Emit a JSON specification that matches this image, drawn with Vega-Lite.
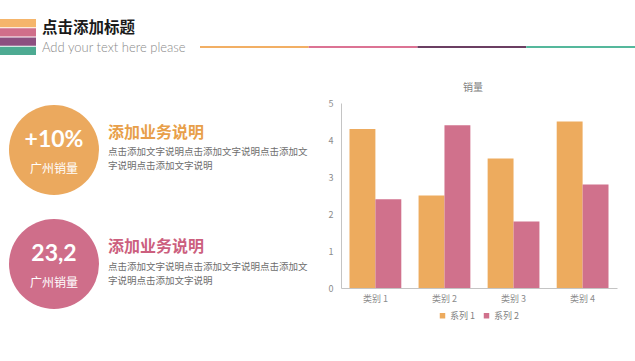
{
  "$schema": "https://vega.github.io/schema/vega-lite/v6.json",
  "background": "white",
  "padding": {"left": 0, "top": 19, "right": 0, "bottom": 0},
  "config": {
    "view": {"stroke": null},
    "font": "Noto Sans CJK SC",
    "title": {"font": "Noto Sans CJK SC"},
    "legend": {"layout": {"bottom": {"anchor": "middle"}}}
  },
  "datasets": {
    "sales": [
      {"category": "类别 1", "series": "系列 1", "value": 4.3},
      {"category": "类别 1", "series": "系列 2", "value": 2.4},
      {"category": "类别 2", "series": "系列 1", "value": 2.5},
      {"category": "类别 2", "series": "系列 2", "value": 4.4},
      {"category": "类别 3", "series": "系列 1", "value": 3.5},
      {"category": "类别 3", "series": "系列 2", "value": 1.8},
      {"category": "类别 4", "series": "系列 1", "value": 4.5},
      {"category": "类别 4", "series": "系列 2", "value": 2.8}
    ],
    "items": [
      {"id": "1", "metric": "+10%", "label": "广州销量", "heading": "添加业务说明", "line1": "点击添加文字说明点击添加文字说明点击添加文", "line2": "字说明点击添加文字说明"},
      {"id": "2", "metric": "23,2", "label": "广州销量", "heading": "添加业务说明", "line1": "点击添加文字说明点击添加文字说明点击添加文", "line2": "字说明点击添加文字说明"}
    ],
    "header": [
      {"part": "title", "k": "h", "text": "点击添加标题"},
      {"part": "sub", "k": "h", "text": "Add your text here please"}
    ],
    "stripes": [{"stripe": "1"}, {"stripe": "2"}, {"stripe": "3"}, {"stripe": "4"}],
    "segments": [{"seg": "1"}, {"seg": "2"}, {"seg": "3"}, {"seg": "4"}]
  },
  "spacing": 84,
  "bounds": "flush",
  "resolve": {"scale": {"color": "independent"}, "legend": {"color": "independent"}},
  "vconcat": [
    {
      "spacing": 0,
      "bounds": "flush",
      "resolve": {"scale": {"color": "independent"}, "legend": {"color": "independent"}},
      "hconcat": [
        {
          "width": 36, "height": 36,
          "data": {"name": "stripes"},
          "mark": {"type": "rect"},
          "encoding": {
            "y": {"field": "stripe", "type": "nominal", "axis": null, "scale": {"paddingInner": 0.12, "paddingOuter": 0}},
            "color": {"field": "stripe", "type": "nominal", "legend": null, "scale": {"range": ["#F5B56B", "#D06E8A", "#8C4F80", "#4DAA92"]}}
          }
        },
        {
          "width": 164, "height": 36,
          "data": {"name": "header"},
          "encoding": {
            "x": {"field": "k", "type": "nominal", "axis": null, "scale": {"type": "point", "padding": 0, "align": 0}},
            "y": {"field": "part", "type": "nominal", "axis": null, "scale": {"domain": ["title", "sub"], "paddingInner": 0, "paddingOuter": 0}},
            "text": {"field": "text"}
          },
          "layer": [
            {
              "transform": [{"filter": "datum.part === 'title'"}],
              "mark": {"type": "text", "align": "left", "baseline": "middle", "dx": 6, "dy": -0.5, "fontSize": 15.5, "fontWeight": "bold", "color": "#1a1a1a"}
            },
            {
              "transform": [{"filter": "datum.part === 'sub'"}],
              "mark": {"type": "text", "align": "left", "baseline": "middle", "dx": 6, "dy": 1.5, "fontSize": 13, "font": "Lato", "fontWeight": 300, "color": "#8a8a8a"}
            }
          ]
        },
        {
          "width": 435, "height": 36,
          "data": {"name": "segments"},
          "mark": {"type": "rect"},
          "encoding": {
            "x": {"field": "seg", "type": "nominal", "axis": null, "scale": {"paddingInner": 0, "paddingOuter": 0}},
            "y": {"datum": "line", "type": "nominal", "axis": null, "scale": {"paddingInner": 0.88, "paddingOuter": 1, "align": 0.795}},
            "color": {"field": "seg", "type": "nominal", "legend": null, "scale": {"range": ["#F2AF64", "#DC7394", "#6B3F62", "#55B89C"]}}
          }
        }
      ]
    },
    {
      "spacing": 179,
      "bounds": "flush",
      "resolve": {"scale": {"color": "independent"}, "legend": {"color": "independent"}},
      "hconcat": [
        {
          "width": 162, "height": 208,
          "data": {"name": "items"},
          "encoding": {
            "y": {"field": "id", "type": "nominal", "axis": null, "scale": {"type": "point", "domain": ["1", "2"], "padding": 0.412}}
          },
          "layer": [
            {
              "mark": {"type": "circle", "size": 8100, "opacity": 1},
              "encoding": {
                "x": {"datum": "c", "type": "nominal", "axis": null, "scale": {"type": "point", "domain": ["c", "t"], "padding": 1}},
                "color": {"field": "id", "type": "nominal", "legend": null, "scale": {"domain": ["1", "2"], "range": ["#EBA95E", "#CF6E8A"]}}
              }
            },
            {
              "mark": {"type": "text", "color": "white", "font": "Lato", "fontWeight": "bold", "fontSize": 23, "dy": -10},
              "encoding": {
                "x": {"datum": "c", "type": "nominal", "axis": null, "scale": {"type": "point", "domain": ["c", "t"], "padding": 1}},
                "text": {"field": "metric"}
              }
            },
            {
              "mark": {"type": "text", "color": "white", "fontSize": 12, "dy": 19},
              "encoding": {
                "x": {"datum": "c", "type": "nominal", "axis": null, "scale": {"type": "point", "domain": ["c", "t"], "padding": 1}},
                "text": {"field": "label"}
              }
            },
            {
              "mark": {"type": "text", "align": "left", "dy": -17, "fontSize": 16, "fontWeight": "bold"},
              "encoding": {
                "x": {"datum": "t", "type": "nominal", "axis": null, "scale": {"type": "point", "domain": ["c", "t"], "padding": 1}},
                "text": {"field": "heading"},
                "color": {"condition": {"test": "datum.id === '1'", "value": "#E89F4A"}, "value": "#CC5F7E"}
              }
            },
            {
              "mark": {"type": "text", "align": "left", "dy": 2.5, "fontSize": 9.5, "color": "#6e6e6e"},
              "encoding": {
                "x": {"datum": "t", "type": "nominal", "axis": null, "scale": {"type": "point", "domain": ["c", "t"], "padding": 1}},
                "text": {"field": "line1"}
              }
            },
            {
              "mark": {"type": "text", "align": "left", "dy": 16.5, "fontSize": 9.5, "color": "#6e6e6e"},
              "encoding": {
                "x": {"datum": "t", "type": "nominal", "axis": null, "scale": {"type": "point", "domain": ["c", "t"], "padding": 1}},
                "text": {"field": "line2"}
              }
            }
          ]
        },
        {
          "width": 276, "height": 185,
          "data": {"name": "sales"},
          "title": {"text": "销量", "fontSize": 10, "fontWeight": "normal", "color": "#7f7f7f", "offset": 6, "dx": -6},
          "mark": {"type": "bar"},
          "encoding": {
            "x": {"field": "category", "type": "nominal", "sort": null, "scale": {"paddingInner": 0.25, "paddingOuter": 0.123},
                  "axis": {"title": null, "labelAngle": 0, "ticks": false, "domainColor": "#c4c4c4", "labelColor": "#8c8c8c", "labelFontSize": 9, "labelPadding": 6}},
            "xOffset": {"field": "series", "type": "nominal", "sort": null},
            "y": {"field": "value", "type": "quantitative", "scale": {"domain": [0, 5], "nice": false},
                  "axis": {"title": null, "grid": false, "ticks": false, "values": [0, 1, 2, 3, 4, 5], "domainColor": "#c4c4c4", "labelColor": "#8c8c8c", "labelFontSize": 9, "labelPadding": 8}},
            "color": {"field": "series", "type": "nominal", "sort": null, "scale": {"range": ["#EDAB5E", "#D0718C"]},
                      "legend": {"orient": "bottom", "title": null, "direction": "horizontal", "symbolType": "square", "symbolSize": 30, "labelFontSize": 9, "labelColor": "#7f7f7f", "labelOffset": 3, "columnPadding": 6, "offset": 8}}
          }
        }
      ]
    }
  ]
}
